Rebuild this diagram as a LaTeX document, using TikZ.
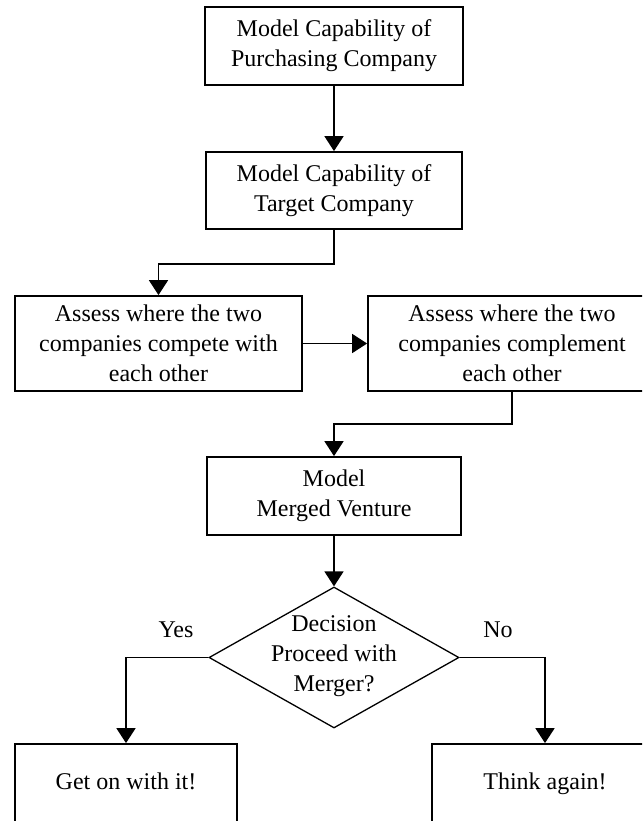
\documentclass[tikz,border=0pt]{standalone}
\usepackage{fontspec}
\setmainfont{Liberation Serif}
\usetikzlibrary{arrows.meta,shapes.geometric}
\begin{document}
\begin{tikzpicture}[x=1pt,y=-1pt,
  txt/.style={align=center,font=\fontsize{24}{30}\selectfont,inner sep=0pt},
  box/.style={txt,draw,line width=1.8pt,rectangle},
  onebox/.style={box,text height=16pt,text depth=5pt},
  dia/.style={draw,diamond,line width=1.3pt,inner sep=0pt,aspect=1.77},
  arr/.style={line width=1.8pt,-{Triangle[length=15pt,width=19pt]}}]
\path[use as bounding box,clip] (0,0) rectangle (642,821);
\fill[white] (0,0) rectangle (642,821);
\node[box,minimum width=258pt,minimum height=78pt] (b1) at (334,46) {Model Capability of\\Purchasing Company};
\node[box,minimum width=256pt,minimum height=77pt] (b2) at (334,190.5) {Model Capability of\\Target Company};
\node[box,minimum width=287pt,minimum height=95pt] (b3) at (158.5,343.5) {Assess where the two\\companies compete with\\each other};
\node[box,minimum width=288pt,minimum height=95pt] (b4) at (512,343.5) {Assess where the two\\companies complement\\each other};
\node[box,minimum width=254pt,minimum height=78pt] (m) at (334,496) {Model\\Merged Venture};
\node[dia,minimum width=250pt,minimum height=141pt] (dec) at (334,657.5) {};
\node[txt] (dect) at (334,656) {Decision\\Proceed with\\Merger?};
\node[onebox,minimum width=222pt,minimum height=79pt] (g) at (126,783.5) {Get on with it!};
\node[onebox,minimum width=226pt,minimum height=79pt] (t) at (545,783.5) {Think again!};
\node[txt] (yes) at (176,630) {Yes};
\node[txt] (no) at (498,630) {No};
\draw[arr] (b1) -- (b2);
\draw[arr] (b2.south) -- ++(0,34) -| (b3.north);
\draw[arr] (b3) -- (b4);
\draw[arr] (b4.south) -- ++(0,32) -| (m.north);
\draw[arr] (m) -- (dec);
\draw[arr] (dec.west) -| (g.north);
\draw[arr] (dec.east) -| (t.north);
\end{tikzpicture}
\end{document}
